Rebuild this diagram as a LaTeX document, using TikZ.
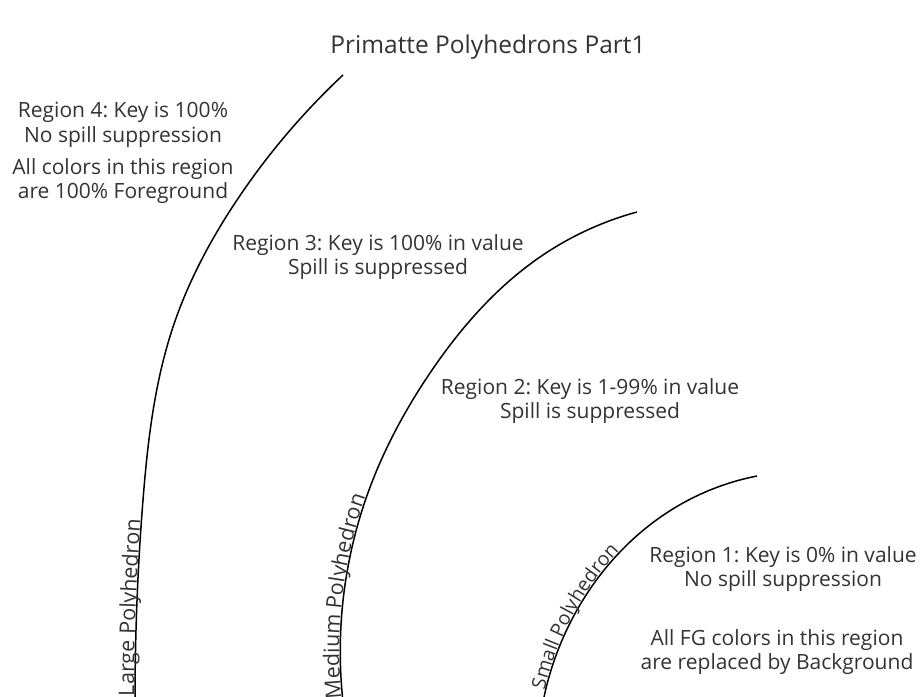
\documentclass[tikz,border=0pt]{standalone}
\usepackage{fontspec}
\setmainfont{Open Sans}
\usetikzlibrary{decorations.text,hobby}
\definecolor{txt}{HTML}{333333}
\newcommand{\bodyfont}{\frenchspacing\fontsize{21}{24.5}\selectfont}
\newcommand{\curvefont}{\fontsize{21.5}{24}\selectfont}
\newcommand{\smallcurvefont}{\fontsize{19.5}{22}\selectfont}
\tikzset{
  lbl/.style={text=txt, align=center, font=\bodyfont, inner sep=0pt},
  curve/.style={draw=black, line width=1.5pt, use Hobby shortcut}
}
\frenchspacing
\begin{document}
\begin{tikzpicture}[x=1pt,y=-1pt]
\useasboundingbox (0,0) rectangle (920,696);
\clip (0,0) rectangle (920,696);
\node[lbl, font=\frenchspacing\fontsize{24.5}{28}\selectfont] (title) at (488,47) {Primatte Polyhedrons Part1};
\node[lbl] (r4a) at (123,125) {Region 4: Key is 100\%\\No spill suppression};
\node[lbl] (r4b) at (123,181) {All colors in this region\\are 100\% Foreground};
\node[lbl] (r3) at (378,257) {Region 3: Key is 100\% in value\\Spill is suppressed};
\node[lbl] (r2) at (590,401) {Region 2: Key is 1-99\% in value\\Spill is suppressed};
\node[lbl] (r1a) at (783,569) {Region 1: Key is 0\% in value\\No spill suppression};
\node[lbl] (r1b) at (777,652) {All FG colors in this region\\are replaced by Background};
% Large
\draw[curve, postaction={decorate}, decoration={text along path, raise=1pt,
  text={|\curvefont\color{txt}|Large Polyhedron}, text align={left indent=6pt}}]
  (135,702) .. (143,500) .. (173,327) .. (237,200) .. (343,75);
% Medium
\draw[curve, postaction={decorate}, decoration={text along path, raise=1pt,
  text={|\curvefont\color{txt}|Medium Polyhedron}, text align={left indent=4pt}}]
  (343,702) .. (369,490) .. (430,373) .. (540,257) .. (637,212);
% Small
\draw[curve, postaction={decorate}, decoration={text along path, raise=1pt,
  text={|\smallcurvefont\color{txt}|Small Polyhedron}, text align={left indent=12pt}}]
  (543,702) .. (577,610) .. (683,503) .. (757,476);
\end{tikzpicture}
\end{document}
